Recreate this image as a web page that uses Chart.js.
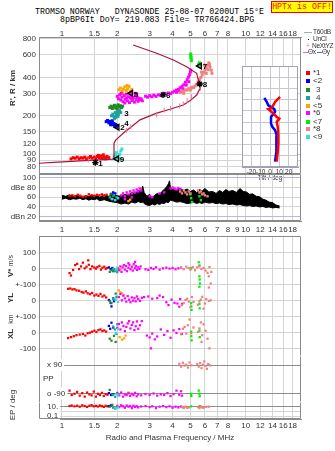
<!DOCTYPE html>
<html>
<head>
<meta charset="utf-8">
<script src="https://cdn.jsdelivr.net/npm/chart.js@4.4.1/dist/chart.umd.min.js"></script>
<style>
  body { margin: 0; width: 335px; height: 451px; position: relative; overflow: hidden; background: #fff;
         font-family: "Liberation Sans", Arial, sans-serif; }
  canvas { position: absolute; left: 0; }
  .mono { position: absolute; white-space: pre; font-family: "Liberation Mono", monospace; font-size: 8.3px; line-height: 9px; color: #000; }
  .lab { position: absolute; white-space: pre; font-size: 8px; line-height: 9px; color: #333; }
  .leg { position: absolute; white-space: pre; font-size: 6.6px; line-height: 8px; color: #333; letter-spacing: -0.3px; }
  .rot { position: absolute; white-space: pre; font-size: 8px; font-weight: bold; color: #333;
         transform: translate(-50%, -50%) rotate(-90deg); }
  .sq { position: absolute; width: 4px; height: 4px; }
</style>
</head>
<body>
<div class="mono" style="left:35px;top:7px">TROMSO NORWAY   DYNASONDE 25-08-07 0200UT 15°E</div>
<div class="mono" style="left:60px;top:15px">8pBP6It DoY= 219.083 File= TR766424.BPG</div>
<div class="mono" style="left:271px;top:1px;width:60px;height:10px;background:#ffff00;border:1px solid #ff0000;color:#ff0000;text-align:center;line-height:10px">HPTx is OFF!</div>

<canvas id="cA" width="335" height="150" style="top:24px"></canvas>
<canvas id="cTilt" width="67" height="118" style="left:232px;top:64px"></canvas>
<canvas id="cB" width="335" height="62" style="top:174px"></canvas>
<canvas id="cC" width="335" height="120" style="top:236px"></canvas>
<canvas id="cD" width="335" height="46" style="top:356px"></canvas>
<canvas id="cE" width="335" height="49" style="top:402px"></canvas>

<div class="rot" style="left:12px;top:88px">R', R / km</div>
<div class="rot" style="left:10px;top:266px">V* <span style="font-weight:normal;font-size:7px">m/s</span></div>
<div class="rot" style="left:10px;top:298px">YL</div>
<div class="rot" style="left:10px;top:319px;font-weight:normal;font-size:7px">km</div>
<div class="rot" style="left:10px;top:334px">XL</div>
<div class="rot" style="left:12px;top:405px;font-weight:normal">EP / deg</div>
<div class="lab" style="left:43px;top:374px">PP</div>

<div style="position:absolute;left:304px;top:32px;width:8px;height:1px;background:#aaa"></div>
<div class="leg" style="left:313px;top:28px">T60dB</div>
<div style="position:absolute;left:308px;top:39px;width:1px;height:1px;background:#000"></div>
<div class="leg" style="left:313px;top:35px">UnCl</div>
<div class="leg" style="left:306px;top:42px;color:#f07090">+</div>
<div class="leg" style="left:312px;top:42px">NeXtYZ</div>
<div style="position:absolute;left:303px;top:52px;width:5px;height:1px;background:#f07090"></div>
<div class="leg" style="left:308px;top:48px">Θx</div>
<div style="position:absolute;left:317px;top:52px;width:5px;height:1px;background:#6060e0"></div>
<div class="leg" style="left:322px;top:48px">Θy</div>

<div class="sq" style="left:306px;top:71px;background:#ff0000"></div><div class="lab" style="left:313px;top:68px">*1</div>
<div class="sq" style="left:306px;top:79px;background:#0000ff"></div><div class="lab" style="left:313px;top:76px">&lt;2</div>
<div class="sq" style="left:306px;top:88px;background:#1e8c1e"></div><div class="lab" style="left:316px;top:85px">3</div>
<div class="sq" style="left:306px;top:96px;background:#1ea0a0"></div><div class="lab" style="left:316px;top:93px">4</div>
<div class="sq" style="left:306px;top:104px;background:#ffa500"></div><div class="lab" style="left:313px;top:101px">&lt;5</div>
<div class="sq" style="left:306px;top:111px;background:#ff00ff"></div><div class="lab" style="left:313px;top:108px">*6</div>
<div class="sq" style="left:306px;top:120px;background:#00ee00"></div><div class="lab" style="left:313px;top:117px">&lt;7</div>
<div class="sq" style="left:306px;top:127px;background:#f08080"></div><div class="lab" style="left:313px;top:124px">*8</div>
<div class="sq" style="left:306px;top:135px;background:#30e0d0"></div><div class="lab" style="left:313px;top:132px">&lt;9</div>

<script>
// frequency axis ticks
const TOP_TICKS = [1, 1.5, 2, 3, 4, 5, 6, 7, 8, 10, 12, 14, 16, 18];
const MID_TICKS = [1, 1.5, 2, 3, 4, 5, 6, 7, 8, 9, 10, 12, 14, 16, 18];
const HEIGHT_TICKS = [80, 90, 100, 120, 150, 200, 300, 400, 600, 800];
const DB_TICKS = [20, 40, 60, 80, 100];
const DB_TEXT = ['dBn 20', '40', '60', 'dBe 80', '100'];
const VEL_TICKS = [100, 0, -100, -200, -300, -400, -500];
const VEL_TEXT = ['100', '0', '+-100', '0', '+-100', '0', '-100'];
const PP_TICKS = [90, -90];
const PP_TEXT = ['x 90', 'o -90'];
const EP_TICKS = [10, 1, 0.1];
const EP_TEXT = ['10.', '', '0.1'];
const TILT_TICKS = [-20, -10, 0, 10, 20];
const TILT_H_TICKS = [150, 200, 250, 300, 350, 400, 450, 500];

// NeXtYZ true height profile (MHz, km)
const profileFreq = [0.75, 0.95, 1.33, 1.9, 1.93, 1.92, 1.96, 2.2, 2.39, 2.66, 3.28, 3.87, 4.57, 4.97, 5.41, 5.59, 5.64, 5.41, 4.77, 4.04, 3.28, 2.44];
const profileHeight = [85, 86.6, 89, 91.4, 93, 122, 129, 150, 164, 186, 210, 225, 243, 262, 291, 319, 338, 431, 485, 548, 618, 718];
const profileMarkFreq = [1.39, 2.24, 2.37, 3.28, 3.6, 3.9, 4.37, 4.57, 4.8, 5.08];
const profileMarkHeight = [90, 154, 164, 203, 222, 228, 239, 248, 263, 282];

// echo group markers
const markerFreq = [1.52, 2.0, 2.1, 2.1, 2.37, 3.55, 5.62, 5.62, 1.99];
const markerHeight = [86, 163, 212, 176, 300, 292, 492, 355, 92];
const markerLabel = ['1', '2', '3', '4', '5', '6', '7', '8', '9'];
const markerShape = ['star', 'triangle', 'none', 'none', 'triangle', 'star', 'triangle', 'star', 'triangle'];

// virtual height of echoes, per group (MHz, km)
const h1 = [[1.12,92],[1.15,94],[1.18,93],[1.21,95],[1.24,92],[1.27,94],[1.3,93],[1.33,95],[1.36,92],[1.4,94],[1.43,96],[1.46,93],[1.5,95],[1.53,92],[1.56,96],[1.6,94],[1.63,97],[1.66,93],[1.7,95],[1.73,92],[1.76,96],[1.8,94],[1.58,98],[1.68,99]];
const h2 = [[1.74,180],[1.77,184],[1.8,176],[1.82,181],[1.85,174],[1.87,178],[1.9,170],[1.92,174],[1.94,167],[1.96,171],[1.98,165],[2.0,168],[1.88,183],[1.84,170]];
const h3 = [[1.82,232],[1.85,238],[1.88,228],[1.9,235],[1.93,242],[1.96,230],[1.99,238],[2.02,244],[2.05,234],[2.08,240],[2.11,232],[2.14,238],[2.0,226]];
const h4 = [[1.86,200],[1.89,206],[1.92,198],[1.95,212],[1.98,204],[2.0,216],[2.03,208],[2.06,220],[2.09,212],[1.96,194],[2.02,198],[1.93,190]];
const h5 = [[2.04,320],[2.08,330],[2.12,312],[2.16,324],[2.2,338],[2.24,316],[2.28,326],[2.32,340],[2.36,310],[2.4,322],[2.26,345],[2.14,300]];
const h6 = [[2.0,284],[2.03,272],[2.06,292],[2.09,266],[2.12,280],[2.15,258],[2.18,288],[2.21,270],[2.24,296],[2.27,262],[2.3,282],[2.33,254],[2.36,276],[2.39,290],[2.42,264],[2.45,278],[2.48,256],[2.51,286],[2.54,268],[2.57,280],[2.6,260],[2.63,274],[2.66,266],[2.7,272],[2.74,262],[2.1,300],[2.2,252],[2.35,298],[2.5,300],[2.25,276],[2.4,270],[2.55,294],
  [2.85,285],[2.92,280],[3.0,288],[3.08,282],[3.16,290],[3.25,284],[3.35,292],[3.45,288],[3.55,296],[3.65,300],
  [3.8,302],[3.9,298],[4.0,306],[4.1,312],[4.2,318],[4.3,322],[4.4,332],[4.5,340],[4.6,350],[4.7,366],[4.8,384],[4.88,402],[4.95,420],[5.0,440],[5.02,456],[4.2,306],[4.35,312],[4.55,326],[4.75,348],[4.9,370]];
const h7 = [[5.02,610],[5.03,590],[5.04,572],[5.05,556],[5.06,540],[5.55,505],[5.6,520],[5.62,500]];
const h8 = [[4.4,304],[4.5,310],[4.6,314],[4.7,320],[4.8,318],[4.9,326],[5.0,330],[5.1,336],[5.2,332],[5.3,342],[5.4,352],[5.5,368],[5.6,385],[5.7,400],[5.8,418],[5.9,438],[6.0,456],[6.1,476],[6.2,498],[6.3,520],[6.4,480],[6.5,455],[6.1,430],[5.95,500],[6.25,460],[6.55,430],[5.75,440],[6.35,505],[4.6,300],[5.0,318]];
const h9 = [[1.92,95],[1.95,99],[1.98,103],[2.0,96],[2.03,93],[2.06,100],[2.09,106],[2.12,110],[2.08,92],[1.97,91]];

// amplitude: unclassified band (MHz, low dB, high dB) and echo groups
const noiseBand = [[1.0,56,64],[1.05,58,62],[1.1,55,65],[1.15,57,61],[1.2,56,64],[1.25,58,62],[1.3,55,60],[1.35,57,64],[1.4,54,61],[1.45,56,65],[1.5,55,62],[1.55,57,64],[1.6,53,60],[1.7,55,65],[1.8,52,62],[1.9,50,67],[2.0,49,63],[2.1,46,62],[2.2,48,66],[2.3,46,64],[2.4,50,70],[2.5,48,68],[2.6,51,74],[2.7,49,72],[2.75,50,83],[2.8,47,70],[2.9,44,62],[3.0,43,66],[3.1,46,60],[3.2,44,64],[3.3,47,68],[3.4,45,65],[3.5,48,72],[3.6,47,76],[3.7,50,81],[3.8,49,88],[3.85,52,94],[3.9,54,78],[4.0,53,77],[4.2,50,74],[4.4,51,78],[4.6,49,74],[4.8,47,77],[5.0,48,72],[5.2,50,75],[5.4,47,70],[5.6,49,76],[5.8,47,73],[6.0,50,78],[6.3,48,71],[6.6,49,72],[6.9,47,68],[7.2,48,74],[7.5,46,70],[7.8,47,76],[8.1,45,72],[8.5,46,74],[8.9,44,70],[9.3,45,78],[9.7,43,72],[10.1,42,71],[10.5,43,66],[10.9,41,67],[11.4,42,62],[11.9,40,61],[12.4,41,56],[12.9,39,54],[13.4,40,50],[14.0,38,49],[14.6,39,44],[15.3,38,42]];
const a1 = [[1.1,63],[1.14,64],[1.18,62],[1.22,65],[1.26,63],[1.3,61],[1.35,62],[1.4,66],[1.45,64],[1.5,63],[1.55,65],[1.6,64],[1.65,66],[1.7,63],[1.75,65]];
const a2 = [[1.86,67],[1.9,70],[1.95,68]];
const a3 = [[1.84,66],[1.9,63]];
const a4 = [[1.82,60],[1.86,57],[1.92,64],[1.98,60]];
const a5 = [[2.3,52],[2.35,55]];
const a6 = [[2.1,64],[2.15,68],[2.2,62],[2.25,70],[2.3,66],[2.35,72],[2.4,68],[2.45,74],[2.5,70],[2.55,76],[2.6,72],[2.65,78],[2.7,74],[3.0,62],[3.1,60],[3.4,68],[3.6,70],[3.9,78],[4.0,80],[4.1,78],[4.2,76],[4.3,79],[4.4,77],[2.2,56],[2.4,60]];
const a7 = [[5.0,66],[5.05,58],[5.1,50],[5.6,62],[5.7,54]];
const a8 = [[4.4,72],[4.5,68],[4.6,74],[4.7,70],[4.8,66],[4.9,72],[5.0,68],[5.5,74],[5.6,70],[5.7,72],[5.8,66],[5.9,68],[6.0,64],[6.2,62]];
const a9 = [[1.88,56],[1.95,54],[2.02,58]];

// Doppler velocity V* (m/s)
const v1 = [[1.1,-30],[1.12,-45],[1.15,-10],[1.18,20],[1.21,28],[1.24,-5],[1.27,12],[1.3,35],[1.33,0],[1.36,10],[1.39,50],[1.4,22],[1.43,-5],[1.46,12],[1.5,5],[1.53,-2],[1.56,8],[1.6,15],[1.63,-8],[1.66,4],[1.7,10],[1.73,-4],[1.76,2]];
const v2 = [[1.8,6],[1.84,-4],[1.88,2],[1.92,-8]];
const v3 = [[1.82,-22],[1.86,-12],[1.9,-18]];
const v4 = [[1.9,-4],[1.94,-18],[1.98,-12],[2.0,-24]];
const v5 = [[2.05,-14],[2.08,-6]];
const v6 = [[2.02,2],[2.05,-10],[2.08,12],[2.11,-22],[2.14,6],[2.17,20],[2.2,-8],[2.23,14],[2.26,-18],[2.3,4],[2.33,22],[2.36,-6],[2.4,10],[2.43,-14],[2.46,26],[2.5,0],[2.53,14],[2.56,-10],[2.6,6],[2.64,-4],[2.68,12],[2.5,40],[2.3,32],[2.85,-6],[2.95,-10],[3.05,2],[3.15,-4],[3.25,6],[3.4,-8],[3.55,0],[3.7,4],[3.85,-2],[4.0,2],[4.15,-6],[4.3,0],[4.45,4]];
const v7 = [[5.05,0],[5.55,38],[5.6,18],[5.6,-50],[5.62,-70],[5.64,-95],[5.6,-115]];
const v8 = [[4.45,4],[4.6,-6],[4.75,10],[4.9,2],[5.0,-8],[5.15,8],[5.3,-12],[5.45,6],[5.6,12],[5.75,-4],[5.9,2],[6.05,-14],[6.2,-28],[6.35,8],[6.5,-22],[6.3,-50],[6.45,-95],[6.3,-120]];
const v9 = [[1.96,-8],[2.0,4]];

// echo location YL (km)
const yl1 = [[1.08,72],[1.11,74],[1.14,68],[1.17,70],[1.2,62],[1.24,60],[1.28,52],[1.31,48],[1.35,56],[1.38,44],[1.42,38],[1.46,46],[1.5,30],[1.54,36],[1.58,28],[1.62,40],[1.66,24],[1.7,30],[1.74,18]];
const yl2 = [[1.8,2],[1.84,-16],[1.86,-38],[1.9,12],[1.92,-6]];
const yl3 = [[1.82,-4],[1.86,-18],[1.96,42]];
const yl4 = [[1.9,10],[1.94,4],[1.98,22]];
const yl5 = [[2.04,62],[2.08,50],[2.12,44],[2.16,30]];
const yl6 = [[2.04,20],[2.08,40],[2.12,0],[2.16,30],[2.2,12],[2.24,-8],[2.28,26],[2.32,4],[2.36,-12],[2.4,18],[2.44,-2],[2.48,14],[2.52,-6],[2.56,24],[2.6,8],[2.66,-4],[2.72,16],[2.8,20],[2.95,24],[3.1,10],[3.3,14],[3.4,30],[3.55,20],[3.7,-12],[3.8,-30],[3.95,4],[4.1,-16],[4.25,-20],[4.4,8],[4.5,-22],[4.35,-40]];
const yl7 = [[5.05,-18],[5.06,-38],[5.07,-60],[5.6,-22],[5.62,-50]];
const yl8 = [[4.5,-30],[4.6,-18],[4.7,2],[4.8,10],[4.9,-8],[5.0,-42],[5.1,20],[5.2,-10],[5.5,-28],[5.6,-6],[5.7,4],[5.8,22],[5.9,-52],[6.0,-20],[6.1,8],[6.3,-4],[6.45,0]];
const yl9 = [[1.96,6],[2.02,-10]];

// echo location XL (km)
const xl1 = [[1.08,-36],[1.12,-30],[1.16,-24],[1.2,-18],[1.25,-14],[1.3,-10],[1.34,-20],[1.38,-6],[1.42,-2],[1.46,4],[1.5,10],[1.54,2],[1.58,14],[1.62,18],[1.66,8],[1.7,12],[1.74,4]];
const xl2 = [[1.8,40],[1.83,22],[1.86,60],[1.9,30]];
const xl3 = [[1.82,-40],[1.86,-52],[1.92,-22],[1.96,-60]];
const xl4 = [[1.9,36],[1.94,18],[1.98,-10],[2.0,50]];
const xl5 = [[2.06,-30],[2.12,-46],[2.18,-38],[2.22,-20]];
const xl6 = [[2.0,28],[2.04,52],[2.08,18],[2.12,62],[2.16,40],[2.2,8],[2.24,34],[2.28,56],[2.32,70],[2.36,24],[2.4,46],[2.44,62],[2.48,14],[2.52,38],[2.56,68],[2.6,22],[2.66,44],[2.72,70],[2.9,-20],[3.0,-32],[3.1,-8],[3.2,-44],[3.3,-26],[3.45,18],[3.6,-16],[3.75,8],[3.9,-34],[4.05,12],[4.2,-4],[4.35,20],[4.5,-10],[3.05,-100]];
const xl7 = [[5.05,4],[5.06,-24],[5.08,-50],[5.6,10],[5.62,-30]];
const xl8 = [[4.45,-12],[4.55,22],[4.65,34],[4.75,-8],[4.85,44],[4.95,80],[5.05,-6],[5.2,30],[5.5,2],[5.6,24],[5.7,62],[5.8,-18],[5.9,50],[6.05,10],[6.2,-40],[6.35,-100],[5.75,-60]];
const xl9 = [[1.96,-4],[2.02,20]];

// polarization PP (deg)
const pp1 = [[1.1,-72],[1.13,-100],[1.17,-92],[1.21,-80],[1.25,-104],[1.29,-88],[1.33,-110],[1.37,-84],[1.41,-96],[1.45,-102],[1.49,-78],[1.53,-110],[1.57,-92],[1.61,-100],[1.65,-86],[1.69,-106],[1.73,-94],[1.77,-98]];
const pp2 = [[1.8,-88],[1.85,-100],[1.9,-94]];
const pp3 = [[1.82,-68],[1.88,-96]];
const pp4 = [[1.9,-100],[1.95,-112],[2.0,-86]];
const pp5 = [[2.3,-84]];
const pp6 = [[2.0,-90],[2.05,-102],[2.1,-84],[2.15,-110],[2.2,-96],[2.25,-100],[2.3,-88],[2.35,-106],[2.4,-92],[2.45,-100],[2.5,-86],[2.55,-108],[2.6,-96],[2.7,-102],[2.85,-94],[3.0,-100],[3.15,-90],[3.3,-104],[3.45,-96],[3.6,-100],[3.75,-88],[3.9,-106],[4.05,-94],[4.2,-72],[4.35,-98],[4.45,-76],[4.5,-104]];
const pp7 = [[5.05,-92],[5.06,-106],[5.55,-72],[5.6,-92],[5.62,-108]];
const pp8 = [[4.35,98],[4.45,80],[4.55,104],[4.65,86],[4.75,92],[4.85,74],[4.95,106],[5.05,88],[5.45,96],[5.55,80],[5.65,102],[5.75,70],[5.85,92],[5.95,112],[6.05,84],[6.15,66],[6.25,96],[6.4,88]];
const pp9 = [[1.98,-96],[2.02,-104]];

// error of polarization EP (deg)
const ep1 = [[1.1,14],[1.13,18],[1.17,12],[1.21,16],[1.25,10],[1.29,20],[1.33,14],[1.37,9],[1.41,16],[1.45,22],[1.49,12],[1.53,15],[1.57,11],[1.61,18],[1.65,13],[1.69,9],[1.73,16],[1.77,12]];
const ep2 = [[1.8,14],[1.85,20]];
const ep3 = [[1.82,10],[1.88,26]];
const ep4 = [[1.9,6],[1.95,4],[2.0,8]];
const ep5 = [];
const ep6 = [[2.0,15],[2.05,8],[2.1,20],[2.15,12],[2.2,6],[2.25,18],[2.3,10],[2.35,14],[2.4,5],[2.45,16],[2.5,9],[2.55,13],[2.6,7],[2.7,11],[2.85,14],[3.0,8],[3.1,12],[3.25,5],[3.4,10],[3.55,14],[3.7,8],[3.85,12],[4.0,6],[4.15,10],[4.3,7],[4.45,11]];
const ep7 = [[5.05,12],[5.6,9],[5.62,14]];
const ep8 = [[4.5,8],[4.6,5],[4.7,10],[4.8,6],[4.9,7],[5.5,9],[5.6,5],[5.7,12],[5.8,7],[5.9,6],[6.1,9],[6.3,10]];
const ep9 = [[1.96,5],[2.02,7]];

// tilt inset (deg, km)
const tiltX = [[10.8,412],[5.4,390],[3.5,375],[1.1,361],[-1.8,358],[3.5,339],[7.2,323],[10,316],[7.2,301],[8.3,279],[8.9,242],[8.9,205],[8.3,168],[7.2,124]];
const tiltY = [[-6.1,408],[-3.5,390],[-1.8,375],[4.6,358],[5.4,346],[1.1,323],[1.1,294],[2.5,279],[5.4,264],[7.2,242],[7.2,205],[6.5,168],[5.4,124]];

const GROUP_COLORS = ['#ff0000', '#0000ff', '#1e8c1e', '#1ea0a0', '#ffa500', '#ff00ff', '#00ee00', '#f08080', '#30e0d0'];
const GRID = '#d4d4d4';
const FRAME = '#8a8a8a';
const F_MIN = 0.75, F_MAX = 20;

Chart.defaults.font.family = '"Liberation Sans", Arial, sans-serif';
Chart.defaults.font.size = 8;
Chart.defaults.color = '#333';

function pts(list) {
    return list.map(p => ({ x: p[0], y: p[1] }));
}

// no label overhang margins, so every panel keeps its exact size
function noOverhang(s) {
    s.paddingTop = 0; s.paddingBottom = 0; s.paddingLeft = 0; s.paddingRight = 0;
}

// Function to build one scatter dataset per echo group
function groupSets(lists, axisId, radius) {
    return lists.map((list, i) => ({
        data: pts(list),
        backgroundColor: GROUP_COLORS[i],
        borderWidth: 0,
        pointStyle: 'rect',
        pointRadius: radius,
        yAxisID: axisId
    })).reverse();
}

function freqAxis(ticks, o) {
    return {
        type: 'logarithmic', position: o.position || 'bottom', min: F_MIN, max: F_MAX,
        afterBuildTicks: s => { s.ticks = ticks.map(v => ({ value: v })); },
        afterFit: s => { s.height = o.height || 0; noOverhang(s); },
        ticks: { display: !!o.labels, autoSkip: false, maxRotation: 0, padding: o.pad || 0, callback: v => String(v) },
        grid: { color: GRID, drawTicks: false },
        border: { color: FRAME, display: o.border !== false },
        title: o.title ? { display: true, text: o.title, padding: { top: 0, bottom: o.titlePad } } : { display: false }
    };
}

function sideAxis(o) {
    return {
        type: o.type || 'linear', min: o.min, max: o.max,
        afterBuildTicks: s => { s.ticks = o.ticks.map(v => ({ value: v })); },
        afterFit: s => { s.width = 39; noOverhang(s); },
        ticks: {
            autoSkip: false, padding: o.pad || 3, mirror: !!o.mirror,
            showLabelBackdrop: !!o.mirror, backdropColor: '#fff',
            backdropPadding: { left: 8, right: 2, top: 1, bottom: 1 },
            callback: v => o.text ? o.text[o.ticks.indexOf(v)] : String(v)
        },
        grid: { color: o.gridColor || GRID, drawTicks: false },
        border: { color: FRAME }
    };
}

function options(scales, open, extra) {
    return Object.assign({
        responsive: false, animation: false, devicePixelRatio: 1,
        layout: { autoPadding: false, padding: { left: 0, right: 34, top: 0, bottom: 0 } },
        plugins: { legend: { display: false }, tooltip: { enabled: false }, frame: { open: open || [] } },
        scales
    }, extra || {});
}

// box round every panel, drawn under the points; 'open' sides are left out
const frame = {
    id: 'frame',
    beforeDatasetsDraw(chart, args, opts) {
        const a = chart.chartArea, ctx = chart.ctx;
        const l = Math.round(a.left) + 0.5, r = Math.round(a.right) - 0.5;
        const t = Math.round(a.top) + 0.5, b = Math.round(a.bottom) - 0.5;
        const open = opts.open || [];
        ctx.save();
        ctx.strokeStyle = opts.color || FRAME;
        ctx.lineWidth = 1;
        ctx.beginPath();
        ctx.moveTo(l, t); ctx.lineTo(l, b);
        ctx.moveTo(r, t); ctx.lineTo(r, b);
        if (!open.includes('top')) { ctx.moveTo(l, t); ctx.lineTo(r, t); }
        if (!open.includes('bottom')) { ctx.moveTo(l, b); ctx.lineTo(r, b); }
        ctx.stroke();
        ctx.restore();
    }
};
// white ground behind the inset
const paper = {
    id: 'paper',
    beforeDraw(chart) {
        const a = chart.chartArea, ctx = chart.ctx;
        ctx.save();
        ctx.fillStyle = '#fff';
        ctx.fillRect(a.left, a.top, a.right - a.left, a.bottom - a.top);
        ctx.restore();
    }
};
// numbers next to the group markers
const tags = {
    id: 'tags',
    afterDatasetsDraw(chart) {
        const ctx = chart.ctx;
        chart.data.datasets.forEach((ds, i) => {
            if (!ds.tags) return;
            ctx.save();
            ctx.fillStyle = '#000';
            ctx.font = 'bold 8px "Liberation Sans", Arial, sans-serif';
            ctx.textBaseline = 'middle';
            chart.getDatasetMeta(i).data.forEach((p, j) => ctx.fillText(ds.tags[j], p.x + 3, p.y + 1));
            ctx.restore();
        });
    }
};

// --- R' / R panel ---
new Chart(document.getElementById('cA'), {
    type: 'scatter',
    data: {
        datasets: [
            {
                data: markerFreq.map((f, i) => ({ x: f, y: markerHeight[i] })),
                tags: markerLabel,
                pointStyle: markerShape.map(s => s === 'none' ? 'circle' : s),
                pointRadius: markerShape.map(s => s === 'none' ? 0 : 3.2),
                rotation: markerShape.map(s => s === 'triangle' ? -90 : 0),
                borderColor: '#000', backgroundColor: 'rgba(0,0,0,0)', borderWidth: 1.4
            },
            {
                data: profileMarkFreq.map((f, i) => ({ x: f, y: profileMarkHeight[i] })),
                pointStyle: 'line', rotation: 90, pointRadius: 2.5,
                borderColor: '#ff7090', borderWidth: 1
            },
            {
                type: 'line',
                data: profileFreq.map((f, i) => ({ x: f, y: profileHeight[i] })),
                borderColor: '#a8143c', borderWidth: 1.2, pointRadius: 0, fill: false
            },
            ...groupSets([h1, h2, h3, h4, h5, h6, h7, h8, h9], 'y', 2.1)
        ]
    },
    options: options({
        x: freqAxis(TOP_TICKS, { position: 'top', labels: true, height: 13, pad: -2 }),
        y: sideAxis({ type: 'logarithmic', min: 70, max: 829, ticks: HEIGHT_TICKS })
    }),
    plugins: [frame, tags]
});

// --- tilt inset ---
new Chart(document.getElementById('cTilt'), {
    type: 'scatter',
    data: {
        datasets: [
            { type: 'line', data: pts(tiltX), borderColor: '#ff0000', borderWidth: 2.5, pointRadius: 0, fill: false },
            { type: 'line', data: pts(tiltY), borderColor: '#0000ff', borderWidth: 2.5, pointRadius: 0, fill: false }
        ]
    },
    options: options({
        x: {
            type: 'linear', min: -30, max: 30,
            afterBuildTicks: s => { s.ticks = TILT_TICKS.map(v => ({ value: v })); },
            afterFit: s => { s.height = 15; noOverhang(s); },
            ticks: { autoSkip: false, maxRotation: 0, padding: 1, font: { size: 6.5 } },
            grid: { color: '#c6c6d6', drawTicks: false },
            border: { color: '#a0a0b8' },
            title: { display: true, text: 'Tilt / deg', font: { size: 6.5 }, padding: 0 }
        },
        y: {
            type: 'linear', min: 100, max: 550,
            afterBuildTicks: s => { s.ticks = TILT_H_TICKS.map(v => ({ value: v })); },
            afterFit: s => { s.width = 0; noOverhang(s); },
            ticks: { display: false },
            grid: { color: '#c6c6d6', drawTicks: false },
            border: { color: '#a0a0b8' }
        }
    }, [], {
        layout: { autoPadding: false, padding: { left: 10, right: 1, top: 2, bottom: 0 } },
        plugins: { legend: { display: false }, tooltip: { enabled: false }, frame: { color: '#a0a0b8' } }
    }),
    plugins: [paper, frame]
});

// --- amplitude panel ---
new Chart(document.getElementById('cB'), {
    type: 'scatter',
    data: {
        datasets: [
            ...groupSets([a1, a2, a3, a4, a5, a6, a7, a8, a9], 'y', 1.7),
            { type: 'line', data: noiseBand.map(r => ({ x: r[0], y: r[1] })), borderColor: '#000', borderWidth: 1, pointRadius: 0, fill: false },
            { type: 'line', data: noiseBand.map(r => ({ x: r[0], y: r[2] })), borderColor: '#000', borderWidth: 1, pointRadius: 0, fill: '-1', backgroundColor: '#000' }
        ]
    },
    options: options({
        x: freqAxis(MID_TICKS, { labels: true, height: 15, pad: 4 }),
        y: sideAxis({
            min: 11, max: 108, ticks: DB_TICKS, text: DB_TEXT,
            gridColor: ctx => (ctx.tick && (ctx.tick.value === 20 || ctx.tick.value === 100)) ? '#b8b8d8' : GRID
        })
    }),
    plugins: [frame]
});

// --- V*, YL, XL panel ---
const velLists = [v1, v2, v3, v4, v5, v6, v7, v8, v9];
const ylLists = [yl1, yl2, yl3, yl4, yl5, yl6, yl7, yl8, yl9];
const xlLists = [xl1, xl2, xl3, xl4, xl5, xl6, xl7, xl8, xl9];
new Chart(document.getElementById('cC'), {
    type: 'scatter',
    data: {
        datasets: [
            ...groupSets(velLists, 'y', 1.6),
            ...groupSets(ylLists, 'yYL', 1.6),
            ...groupSets(xlLists, 'yXL', 1.6)
        ]
    },
    options: options({
        x: freqAxis(TOP_TICKS, { labels: false, height: 0, border: false }),
        y: sideAxis({ min: -548, max: 202, ticks: VEL_TICKS, text: VEL_TEXT }),
        yYL: { axis: 'y', type: 'linear', display: false, min: -348, max: 402 },
        yXL: { axis: 'y', type: 'linear', display: false, min: -148, max: 602 }
    }, ['bottom']),
    plugins: [frame]
});

// --- PP panel ---
new Chart(document.getElementById('cD'), {
    type: 'scatter',
    data: { datasets: groupSets([pp1, pp2, pp3, pp4, pp5, pp6, pp7, pp8, pp9], 'y', 1.6) },
    options: options({
        x: freqAxis(TOP_TICKS, { labels: false, height: 0, border: false }),
        y: sideAxis({ min: -144, max: 147, ticks: PP_TICKS, text: PP_TEXT, mirror: true, pad: 8, gridColor: '#8c8c8c' })
    }, ['top', 'bottom']),
    plugins: [frame]
});

// --- EP panel ---
new Chart(document.getElementById('cE'), {
    type: 'scatter',
    data: { datasets: groupSets([ep1, ep2, ep3, ep4, ep5, ep6, ep7, ep8, ep9], 'y', 1.6) },
    options: options({
        x: freqAxis(TOP_TICKS, { labels: true, height: 32, pad: 2, title: 'Radio and Plasma Frequency / MHz', titlePad: 8.5 }),
        y: sideAxis({
            type: 'logarithmic', min: 0.0227, max: 103, ticks: EP_TICKS, text: EP_TEXT, mirror: true, pad: 8,
            gridColor: ctx => (ctx.tick && ctx.tick.value === 10) ? '#8c8c8c' : GRID
        })
    }, ['top']),
    plugins: [frame]
});
</script>
</body>
</html>
